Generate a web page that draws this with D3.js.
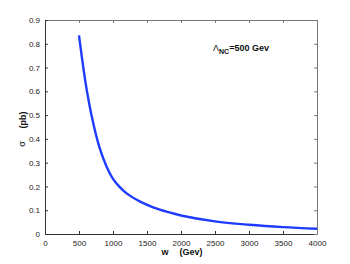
<!DOCTYPE html>
<html><head><meta charset="utf-8">
<script src="https://cdn.jsdelivr.net/npm/d3@7"></script>
<style>body{margin:0;background:#fff}svg{display:block}</style>
</head><body>
<svg id="c" width="350" height="264"></svg>
<script>
const wValues = [500,600,700,800,900,1000,1100,1200,1400,1600,1800,2000,2500,3000,3500,4000];
const sigmaValues = [0.835,0.63,0.478,0.365,0.287,0.232,0.197,0.171,0.136,0.111,0.093,0.078,0.053,0.039,0.029,0.022];
const xTicks = [0,500,1000,1500,2000,2500,3000,3500,4000];
const yTicks = [0,0.1,0.2,0.3,0.4,0.5,0.6,0.7,0.8,0.9];

const svg = d3.select("#c");
const L=45, R=317, T=20, B=234;
const x = d3.scaleLinear().domain([0,4000]).range([L,R]);
const y = d3.scaleLinear().domain([0,0.9]).range([B,T]);
const font = "Liberation Sans, Arial, Helvetica, sans-serif";

function styleAxis(g, showLabels){
  g.selectAll(".domain").attr("stroke","#333").attr("stroke-width",1);
  g.selectAll(".tick line").attr("stroke","#333");
  g.selectAll(".tick text").attr("font-family",font).attr("font-size","8px").attr("fill","#222");
  if(!showLabels) g.selectAll(".tick text").remove();
}

const xb = svg.append("g").attr("transform",`translate(0,${B})`)
  .call(d3.axisBottom(x).tickValues(xTicks).tickSizeInner(-3).tickSizeOuter(0).tickPadding(6).tickFormat(d3.format("d")));
styleAxis(xb,true);
const xt = svg.append("g").attr("transform",`translate(0,${T})`)
  .call(d3.axisTop(x).tickValues(xTicks).tickSizeInner(-3).tickSizeOuter(0));
styleAxis(xt,false);
const yl = svg.append("g").attr("transform",`translate(${L},0)`)
  .call(d3.axisLeft(y).tickValues(yTicks).tickSizeInner(-3).tickSizeOuter(0).tickPadding(5).tickFormat(d=>d===0?"0":d3.format(".1f")(d)));
styleAxis(yl,true);
const yr = svg.append("g").attr("transform",`translate(${R},0)`)
  .call(d3.axisRight(y).tickValues(yTicks).tickSizeInner(-3).tickSizeOuter(0));
styleAxis(yr,false);
xt.selectAll(".domain,.tick line").attr("stroke","#777");
yr.selectAll(".domain,.tick line").attr("stroke","#777");

const line = d3.line().x((d,i)=>x(wValues[i])).y(d=>y(d)).curve(d3.curveCatmullRom.alpha(0.5));
svg.append("path").datum(sigmaValues).attr("d",line)
  .attr("fill","none").attr("stroke","#1e3cff").attr("stroke-width",2.4);

// axis labels
svg.append("text").attr("x",165).attr("y",255).attr("font-family",font).attr("font-size","9px")
  .attr("font-weight","bold").attr("fill","#111").attr("text-anchor","middle").text("w");
svg.append("text").attr("x",191).attr("y",255).attr("font-family",font).attr("font-size","9px")
  .attr("font-weight","bold").attr("fill","#111").attr("text-anchor","middle").text("(Gev)");
svg.append("text").attr("transform","translate(25,144) rotate(-90)").attr("font-family",font).attr("font-size","9px")
  .attr("fill","#111").attr("text-anchor","middle").text("σ");
svg.append("text").attr("transform","translate(26,120) rotate(-90)").attr("font-family",font).attr("font-size","9px")
  .attr("font-weight","bold").attr("fill","#111").attr("text-anchor","middle").text("(pb)");

// annotation
const ann = svg.append("text").attr("x",213).attr("y",51).attr("font-family",font).attr("fill","#111");
ann.append("tspan").attr("font-size","9px").text("Λ");
ann.append("tspan").attr("font-size","7px").attr("font-weight","bold").attr("dy",3).text("NC");
ann.append("tspan").attr("font-size","9px").attr("font-weight","bold").attr("dy",-3).text("=500 Gev");
</script>
</body></html>
